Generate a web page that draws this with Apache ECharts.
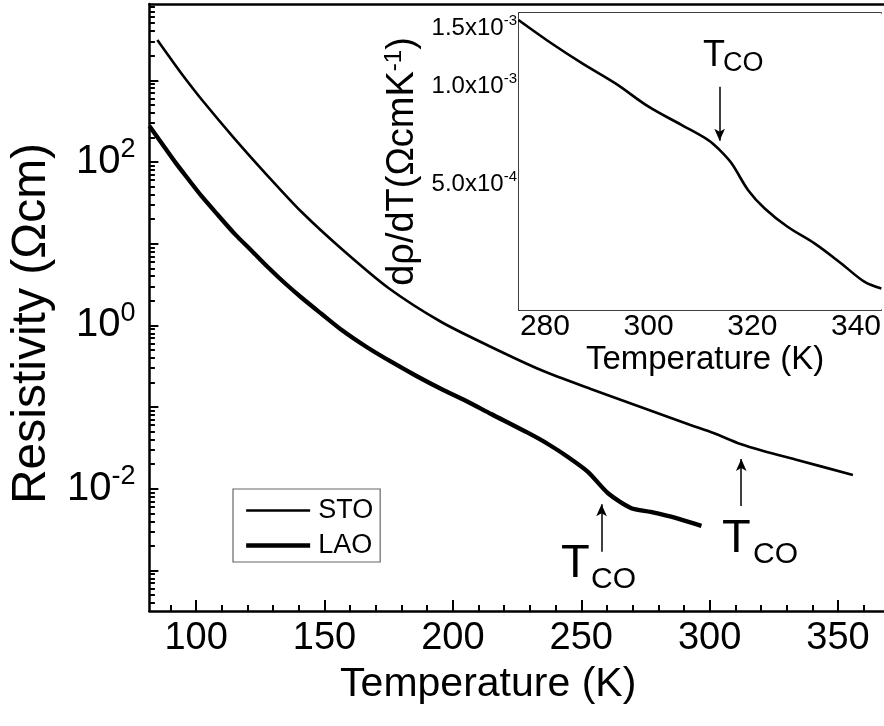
<!DOCTYPE html>
<html>
<head>
<meta charset="utf-8">
<style>
  html, body { margin: 0; padding: 0; background: #fff; }
  #chart { width: 884px; height: 726px; }
</style>
<script src="https://cdn.jsdelivr.net/npm/echarts@6.0.0/dist/echarts.min.js"></script>
</head>
<body>
<div id="chart"></div>
<script>
// main panel: resistivity vs temperature (log scale)
var stoTemp = [84.9, 89.9, 95.0, 102.3, 115.1, 128.3, 141.1, 156.7, 174.9, 195.5, 214.9, 234.3, 253.7, 273.1, 292.5, 301.5, 312.0, 320.9, 334.1, 355.8]
var stoRes = [3110, 1875, 1129, 574, 191, 65.5, 24.4, 8.61, 2.87, 1.10, 0.544, 0.284, 0.1665, 0.1003, 0.0604, 0.0482, 0.0353, 0.0290, 0.0225, 0.01476]
var laoTemp = [81.8, 86.8, 91.9, 96.9, 102.3, 108.5, 115.1, 121.7, 128.3, 134.5, 141.1, 148.9, 156.7, 166.4, 176.1, 185.8, 195.5, 205.2, 214.9, 229.3, 237.0, 244.8, 252.6, 260.3, 269.3, 277.0, 286.7, 296.8]
var laoRes = [276, 166, 98.9, 61.9, 37.6, 22.45, 13.1, 8.14, 5.04, 3.30, 2.18, 1.379, 0.878, 0.544, 0.3565, 0.2402, 0.1665, 0.1188, 0.0823, 0.0482, 0.0353, 0.0245, 0.0161, 0.00888, 0.00582, 0.0052, 0.0044, 0.00351]

// inset: d(rho)/dT of STO
var insetTemp = [274.9, 280.8, 287.2, 293.6, 300.0, 306.4, 311.5, 313.7, 316.0, 319.2, 322.4, 326.8, 332.0, 337.1, 341.6, 344.9]
var insetDeriv = [1.59e-3, 1.365e-3, 1.172e-3, 1.018e-3, 8.64e-4, 7.59e-4, 6.83e-4, 6.37e-4, 5.80e-4, 4.80e-4, 4.22e-4, 3.71e-4, 3.30e-4, 2.87e-4, 2.52e-4, 2.40e-4]

// T_CO arrows [temperature, tail value, head value]
var stoArrow = [312.3, 0.00616, 0.0231]
var laoArrow = [257.9, 0.0017, 0.00646]
var insetArrow = [313.7, 9.94e-4, 6.80e-4]

// ticks
var mainXLabels = [100, 150, 200, 250, 300, 350]
var mainYLabels = [1e-2, 1, 1e2]
var mainYMajor = [1e-3, 1e-2, 1e-1, 1, 1e1, 1e2, 1e3]
var insetXLabels = [280, 300, 320, 340]
var insetXMinor = [290, 310, 330]
var insetYLabels = [5e-4, 1e-3, 1.5e-3]
var insetYMinor = [2.5e-4, 7.5e-4, 1.25e-3]

var mainXMinor = []
for (var t = 90; t <= 360; t += 10) {
  if (t % 50 !== 0) mainXMinor.push(t)
}
var mainYMinor = []
for (var e = -4; e <= 3; e++) {
  for (var m = 2; m <= 9; m++) mainYMinor.push(m * Math.pow(10, e))
}

var FONT = 'Liberation Sans'
var BLACK = '#000'
var STO_W = 2.6
var LAO_W = 4.3

function pairs(xs, ys) {
  return xs.map(function (x, i) { return [x, ys[i]] })
}

function arrowLine(a) {
  return {
    silent: true,
    animation: false,
    symbol: ['none', 'arrow'],
    symbolSize: [8, 12],
    lineStyle: { color: BLACK, width: 1.5, type: 'solid' },
    label: { show: false },
    emphasis: { disabled: true },
    data: [[{ coord: [a[0], a[1]] }, { coord: [a[0], a[2]] }]]
  }
}

function powLabel(v) {
  var p = Math.round(Math.log10(v))
  return '{a|10}{b|' + p + '}'
}

function sciLabel(v) {
  var p = Math.floor(Math.log10(v) + 1e-9)
  var mant = (v / Math.pow(10, p)).toFixed(1)
  return mant + 'x10{b|' + p + '}'
}

var chart = echarts.init(document.getElementById('chart'), null, { renderer: 'canvas' })

var option = {
  animation: false,
  backgroundColor: '#fff',
  textStyle: { fontFamily: FONT, color: BLACK },
  grid: [
    { left: 147, top: 4, right: 0, bottom: 115 },
    { left: 519, top: 13, right: 0, bottom: 416, show: true, backgroundColor: '#fff', borderWidth: 0, z: 5 }
  ],
  legend: {
    orient: 'vertical',
    left: 233,
    top: 489,
    data: [
      { name: 'STO', lineStyle: { width: STO_W, color: BLACK } },
      { name: 'LAO', lineStyle: { width: LAO_W, color: BLACK } }
    ],
    itemWidth: 64,
    itemHeight: 20,
    itemGap: 8,
    padding: [8, 7, 3, 11],
    borderColor: '#666',
    borderWidth: 1.2,
    borderRadius: 0,
    backgroundColor: '#fff',
    selectedMode: false,
    itemStyle: { opacity: 0, borderWidth: 0 },
    textStyle: { fontFamily: FONT, fontSize: 27, color: BLACK, padding: [0, 0, 0, 3] }
  },
  xAxis: [
    {
      gridIndex: 0, type: 'value', min: 81.8, max: 367.9, position: 'bottom',
      name: 'Temperature (K)', nameLocation: 'middle', nameGap: 53,
      nameTextStyle: { fontSize: 41, color: BLACK, fontFamily: FONT, padding: [0, 57, 0, 0] },
      axisLine: { show: true, lineStyle: { color: BLACK, width: 2.5 } },
      axisTick: { show: true, inside: true, length: 11, lineStyle: { width: 2, color: BLACK }, customValues: mainXLabels },
      axisLabel: { show: true, customValues: mainXLabels, fontSize: 38, color: BLACK, fontFamily: FONT, margin: 9 },
      splitLine: { show: false }
    },
    {
      gridIndex: 0, type: 'value', min: 81.8, max: 367.9, position: 'bottom',
      axisLine: { show: false },
      axisTick: { show: true, inside: true, length: 6, lineStyle: { width: 2, color: BLACK }, customValues: mainXMinor },
      axisLabel: { show: false },
      splitLine: { show: false }
    },
    {
      gridIndex: 0, type: 'value', min: 81.8, max: 367.9, position: 'top',
      axisLine: { show: true, lineStyle: { color: BLACK, width: 2.5 } },
      axisTick: { show: false }, axisLabel: { show: false }, splitLine: { show: false }
    },
    {
      gridIndex: 1, type: 'value', min: 275, max: 344.87, position: 'bottom',
      name: 'Temperature (K)', nameLocation: 'middle', nameGap: 33,
      nameTextStyle: { fontSize: 33, color: BLACK, fontFamily: FONT, padding: [0, 0, 0, 10] },
      axisLine: { show: true, lineStyle: { color: BLACK, width: 1.5 } },
      axisTick: { show: true, inside: true, length: 6, lineStyle: { width: 1.5, color: BLACK }, customValues: insetXLabels },
      axisLabel: { show: true, customValues: insetXLabels, fontSize: 30, color: BLACK, fontFamily: FONT, margin: 2 },
      splitLine: { show: false }
    },
    {
      gridIndex: 1, type: 'value', min: 275, max: 344.87, position: 'bottom',
      axisLine: { show: false },
      axisTick: { show: true, inside: true, length: 4, lineStyle: { width: 1.5, color: BLACK }, customValues: insetXMinor },
      axisLabel: { show: false }, splitLine: { show: false }
    },
    {
      gridIndex: 1, type: 'value', min: 275, max: 344.87, position: 'top',
      axisLine: { show: true, lineStyle: { color: BLACK, width: 1.5 } },
      axisTick: { show: false }, axisLabel: { show: false }, splitLine: { show: false }
    }
  ],
  yAxis: [
    {
      gridIndex: 0, type: 'log', min: 3.19e-4, max: 8590, position: 'left',
      name: 'Resistivity (Ωcm)', nameLocation: 'middle', nameRotate: 90, nameGap: 91,
      nameTextStyle: { fontSize: 48, color: BLACK, fontFamily: FONT, padding: [0, 32, 0, 0] },
      axisLine: { show: true, lineStyle: { color: BLACK, width: 2.5 } },
      axisTick: { show: true, inside: true, length: 9, lineStyle: { width: 2, color: BLACK }, customValues: mainYMajor },
      axisLabel: {
        show: true, customValues: mainYLabels, margin: 14, formatter: powLabel,
        rich: {
          a: { fontSize: 40, fontFamily: FONT, color: BLACK },
          b: { fontSize: 27, fontFamily: FONT, color: BLACK, padding: [0, 0, 24, 0] }
        }
      },
      splitLine: { show: false }
    },
    {
      gridIndex: 0, type: 'log', min: 3.19e-4, max: 8590, position: 'left',
      axisLine: { show: false },
      axisTick: { show: true, inside: true, length: 5.5, lineStyle: { width: 2, color: BLACK }, customValues: mainYMinor },
      axisLabel: { show: false }, splitLine: { show: false }
    },
    {
      gridIndex: 1, type: 'log', min: 2.064e-4, max: 1.671e-3, position: 'left',
      name: 'dρ/dT(ΩcmK{s|-1})', nameLocation: 'middle', nameRotate: 90, nameGap: 95,
      nameTextStyle: {
        fontSize: 38, color: BLACK, fontFamily: FONT,
        rich: { s: { fontSize: 24, fontFamily: FONT, color: BLACK, padding: [0, 0, 18, 0] } }
      },
      axisLine: { show: true, lineStyle: { color: BLACK, width: 1.5 } },
      axisTick: { show: true, inside: true, length: 5, lineStyle: { width: 1.5, color: BLACK }, customValues: insetYLabels },
      axisLabel: {
        show: true, customValues: insetYLabels, margin: 2, formatter: sciLabel,
        fontSize: 24, color: BLACK, fontFamily: FONT,
        rich: { b: { fontSize: 15, fontFamily: FONT, color: BLACK, padding: [0, 0, 14, 0] } }
      },
      splitLine: { show: false }
    },
    {
      gridIndex: 1, type: 'log', min: 2.064e-4, max: 1.671e-3, position: 'left',
      axisLine: { show: false },
      axisTick: { show: true, inside: true, length: 3.5, lineStyle: { width: 1.5, color: BLACK }, customValues: insetYMinor },
      axisLabel: { show: false }, splitLine: { show: false }
    }
  ],
  series: [
    {
      name: 'STO', type: 'line', xAxisIndex: 0, yAxisIndex: 0,
      data: pairs(stoTemp, stoRes), symbol: 'none', showSymbol: false, smooth: 0.25, silent: true,
      lineStyle: { color: BLACK, width: STO_W }, itemStyle: { color: BLACK },
      markLine: arrowLine(stoArrow)
    },
    {
      name: 'LAO', type: 'line', xAxisIndex: 0, yAxisIndex: 0,
      data: pairs(laoTemp, laoRes), symbol: 'none', showSymbol: false, smooth: 0.25, silent: true,
      lineStyle: { color: BLACK, width: LAO_W }, itemStyle: { color: BLACK },
      markLine: arrowLine(laoArrow)
    },
    {
      name: 'dRho', type: 'line', xAxisIndex: 3, yAxisIndex: 2, z: 6,
      data: pairs(insetTemp, insetDeriv), symbol: 'none', showSymbol: false, smooth: 0.35, silent: true,
      lineStyle: { color: BLACK, width: 2.6 }, itemStyle: { color: BLACK },
      markLine: arrowLine(insetArrow)
    }
  ],
  graphic: [
    { type: 'text', x: 561, y: 564, z: 20, style: { text: 'T', fontSize: 47, fontFamily: FONT, fill: BLACK, align: 'left', verticalAlign: 'middle' } },
    { type: 'text', x: 591, y: 580, z: 20, style: { text: 'CO', fontSize: 30, fontFamily: FONT, fill: BLACK, align: 'left', verticalAlign: 'middle' } },
    { type: 'text', x: 722, y: 539, z: 20, style: { text: 'T', fontSize: 47, fontFamily: FONT, fill: BLACK, align: 'left', verticalAlign: 'middle' } },
    { type: 'text', x: 753, y: 555, z: 20, style: { text: 'CO', fontSize: 30, fontFamily: FONT, fill: BLACK, align: 'left', verticalAlign: 'middle' } },
    { type: 'text', x: 703, y: 56, z: 20, style: { text: 'T', fontSize: 36, fontFamily: FONT, fill: BLACK, align: 'left', verticalAlign: 'middle' } },
    { type: 'text', x: 723, y: 64, z: 20, style: { text: 'CO', fontSize: 27, fontFamily: FONT, fill: BLACK, align: 'left', verticalAlign: 'middle' } }
  ]
}

chart.setOption(option)
</script>
</body>
</html>
